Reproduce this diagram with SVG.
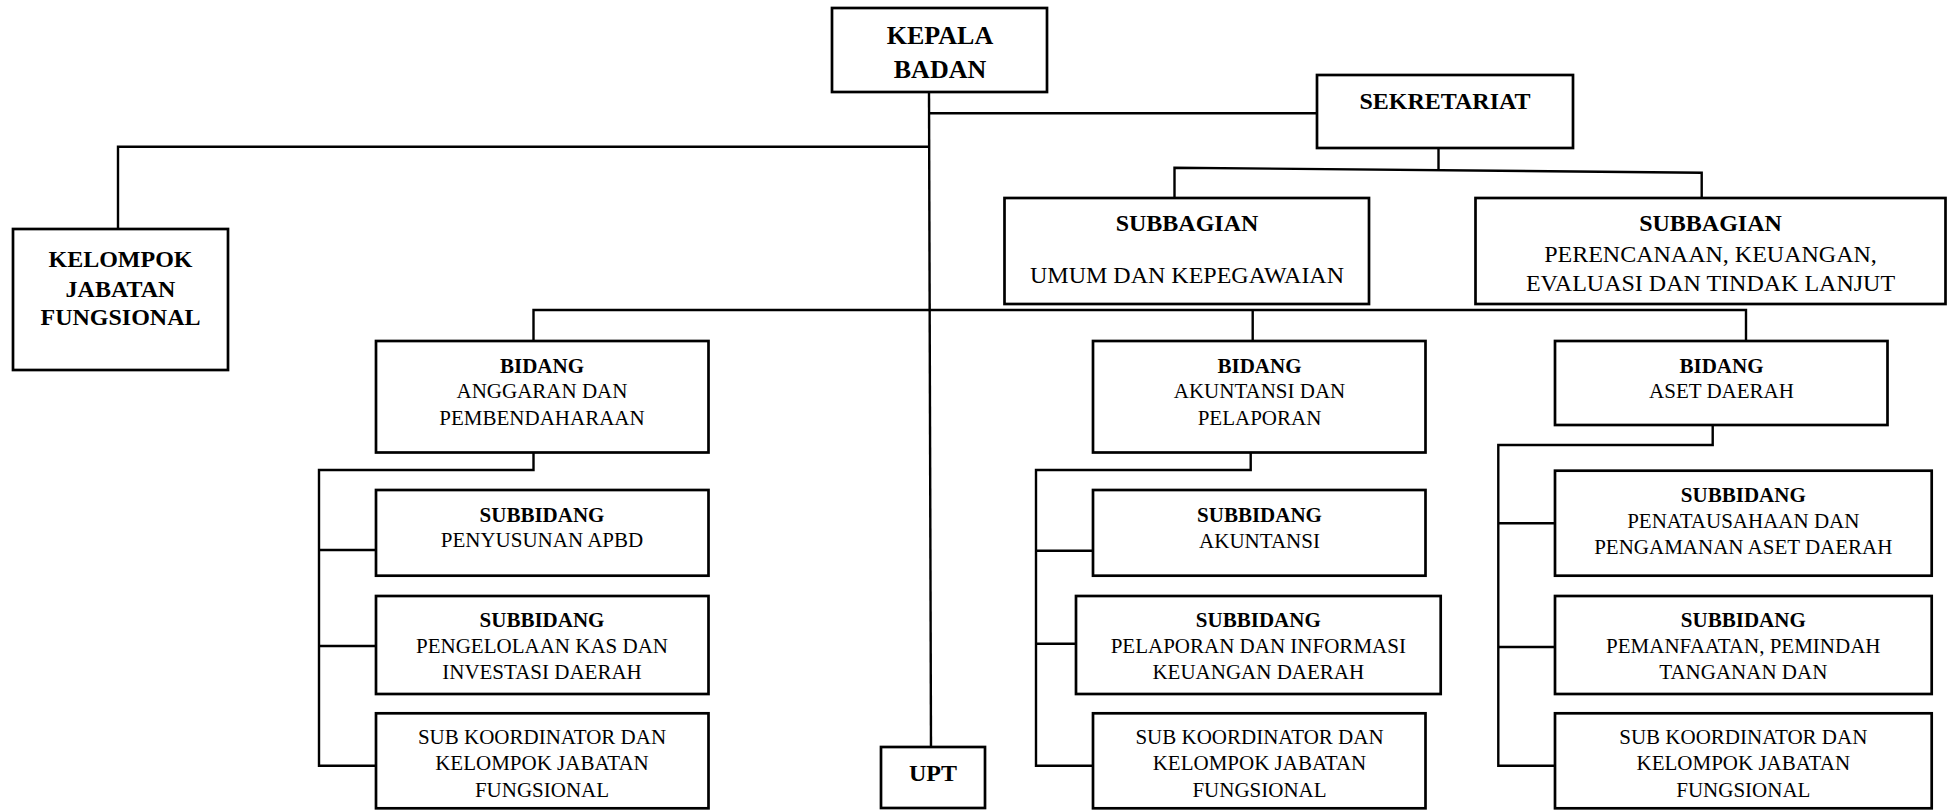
<svg xmlns="http://www.w3.org/2000/svg" width="1948" height="810" viewBox="0 0 1948 810">
<style>
.box{fill:#fff;stroke:#000;stroke-width:2.7}
.ln{fill:none;stroke:#000;stroke-width:2.4}
text{font-family:"Liberation Serif","Times New Roman",serif;fill:#000;text-anchor:middle}
.b{font-weight:bold}
.t24{font-size:24px}
.t26{font-size:26px}
.t21{font-size:21px}
</style>
<rect width="1948" height="810" fill="#fff"/>
<g id="connectors">
<path class="ln" d="M929 92 L931 747"/>
<path class="ln" d="M929 113.3 H1317"/>
<path class="ln" d="M118 229 V146.7 H929"/>
<path class="ln" d="M1438.5 148 V171"/>
<path class="ln" d="M1174.5 198 V167.7 L1701.7 172.7 V198"/>
<path class="ln" d="M533.5 341 V310 H1746 V341"/>
<path class="ln" d="M1252.7 310 V341"/>
<path class="ln" d="M533.5 452 V470 H319 V765.7 H376"/>
<path class="ln" d="M319 550 H376 M319 646 H376"/>
<path class="ln" d="M1250.7 452 V470 H1036 V765.7 H1093"/>
<path class="ln" d="M1036 550.7 H1093 M1036 643.7 H1076"/>
<path class="ln" d="M1712.7 425 V445 H1498.3 V765.7 H1555"/>
<path class="ln" d="M1498.3 523.3 H1555 M1498.3 647 H1555"/>
</g>
<g id="kepala">
<rect class="box" x="832" y="8" width="215" height="84"/>
<text class="b t26" x="940" y="44">KEPALA</text>
<text class="b t26" x="940" y="78">BADAN</text>
</g>
<g id="sekretariat">
<rect class="box" x="1317" y="75" width="256" height="73"/>
<text class="b t24" x="1445" y="109">SEKRETARIAT</text>
</g>
<g id="kjf">
<rect class="box" x="13" y="229" width="215" height="141"/>
<text class="b t24" x="120.5" y="267">KELOMPOK</text>
<text class="b t24" x="120.5" y="297">JABATAN</text>
<text class="b t24" x="120.5" y="325">FUNGSIONAL</text>
</g>
<g id="subbagian-umum">
<rect class="box" x="1004.5" y="198" width="364.5" height="106"/>
<text class="b t24" x="1187" y="231">SUBBAGIAN</text>
<text class="t24" x="1187" y="283">UMUM DAN KEPEGAWAIAN</text>
</g>
<g id="subbagian-perencanaan">
<rect class="box" x="1475.5" y="198" width="470" height="106"/>
<text class="b t24" x="1710.5" y="231">SUBBAGIAN</text>
<text class="t24" x="1710.5" y="262">PERENCANAAN, KEUANGAN,</text>
<text class="t24" x="1710.5" y="291">EVALUASI DAN TINDAK LANJUT</text>
</g>
<g id="bidang-anggaran">
<rect class="box" x="376" y="341" width="332.5" height="111.5"/>
<text class="b t21" x="542" y="373">BIDANG</text>
<text class="t21" x="542" y="398">ANGGARAN DAN</text>
<text class="t21" x="542" y="425">PEMBENDAHARAAN</text>
</g>
<g id="bidang-akuntansi">
<rect class="box" x="1093" y="341" width="332.5" height="111.5"/>
<text class="b t21" x="1259.5" y="373">BIDANG</text>
<text class="t21" x="1259.5" y="398">AKUNTANSI DAN</text>
<text class="t21" x="1259.5" y="425">PELAPORAN</text>
</g>
<g id="bidang-aset">
<rect class="box" x="1555" y="341" width="332.5" height="84"/>
<text class="b t21" x="1721.5" y="373">BIDANG</text>
<text class="t21" x="1721.5" y="398">ASET DAERAH</text>
</g>
<g id="sub-apbd">
<rect class="box" x="376" y="490" width="332.5" height="85.7"/>
<text class="b t21" x="542" y="521.7">SUBBIDANG</text>
<text class="t21" x="542" y="547.3">PENYUSUNAN APBD</text>
</g>
<g id="sub-kas">
<rect class="box" x="376" y="596" width="332.5" height="98"/>
<text class="b t21" x="542" y="626.7">SUBBIDANG</text>
<text class="t21" x="542" y="653.3">PENGELOLAAN KAS DAN</text>
<text class="t21" x="542" y="679.3">INVESTASI DAERAH</text>
</g>
<g id="subkoord-1">
<rect class="box" x="376" y="713.3" width="332.5" height="95"/>
<text class="t21" x="542" y="744.3">SUB KOORDINATOR DAN</text>
<text class="t21" x="542" y="770">KELOMPOK JABATAN</text>
<text class="t21" x="542" y="796.7">FUNGSIONAL</text>
</g>
<g id="sub-akuntansi">
<rect class="box" x="1093" y="490" width="332.5" height="85.7"/>
<text class="b t21" x="1259.5" y="522.3">SUBBIDANG</text>
<text class="t21" x="1259.5" y="547.7">AKUNTANSI</text>
</g>
<g id="sub-pelaporan">
<rect class="box" x="1076" y="596" width="364.7" height="98"/>
<text class="b t21" x="1258.3" y="626.7">SUBBIDANG</text>
<text class="t21" x="1258.3" y="653.3">PELAPORAN DAN INFORMASI</text>
<text class="t21" x="1258.3" y="679.3">KEUANGAN DAERAH</text>
</g>
<g id="subkoord-2">
<rect class="box" x="1093" y="713.3" width="332.5" height="95"/>
<text class="t21" x="1259.5" y="744.3">SUB KOORDINATOR DAN</text>
<text class="t21" x="1259.5" y="770">KELOMPOK JABATAN</text>
<text class="t21" x="1259.5" y="796.7">FUNGSIONAL</text>
</g>
<g id="sub-penatausahaan">
<rect class="box" x="1555" y="470.7" width="376.7" height="105"/>
<text class="b t21" x="1743.3" y="501.7">SUBBIDANG</text>
<text class="t21" x="1743.3" y="528.3">PENATAUSAHAAN DAN</text>
<text class="t21" x="1743.3" y="554">PENGAMANAN ASET DAERAH</text>
</g>
<g id="sub-pemanfaatan">
<rect class="box" x="1555" y="596" width="376.7" height="98"/>
<text class="b t21" x="1743.3" y="626.7">SUBBIDANG</text>
<text class="t21" x="1743.3" y="653.3">PEMANFAATAN, PEMINDAH</text>
<text class="t21" x="1743.3" y="679.3">TANGANAN DAN</text>
</g>
<g id="subkoord-3">
<rect class="box" x="1555" y="713.3" width="376.7" height="95"/>
<text class="t21" x="1743.3" y="744.3">SUB KOORDINATOR DAN</text>
<text class="t21" x="1743.3" y="770">KELOMPOK JABATAN</text>
<text class="t21" x="1743.3" y="796.7">FUNGSIONAL</text>
</g>
<g id="upt">
<rect class="box" x="881" y="747" width="104" height="61"/>
<text class="b t24" x="933" y="781">UPT</text>
</g>
</svg>
